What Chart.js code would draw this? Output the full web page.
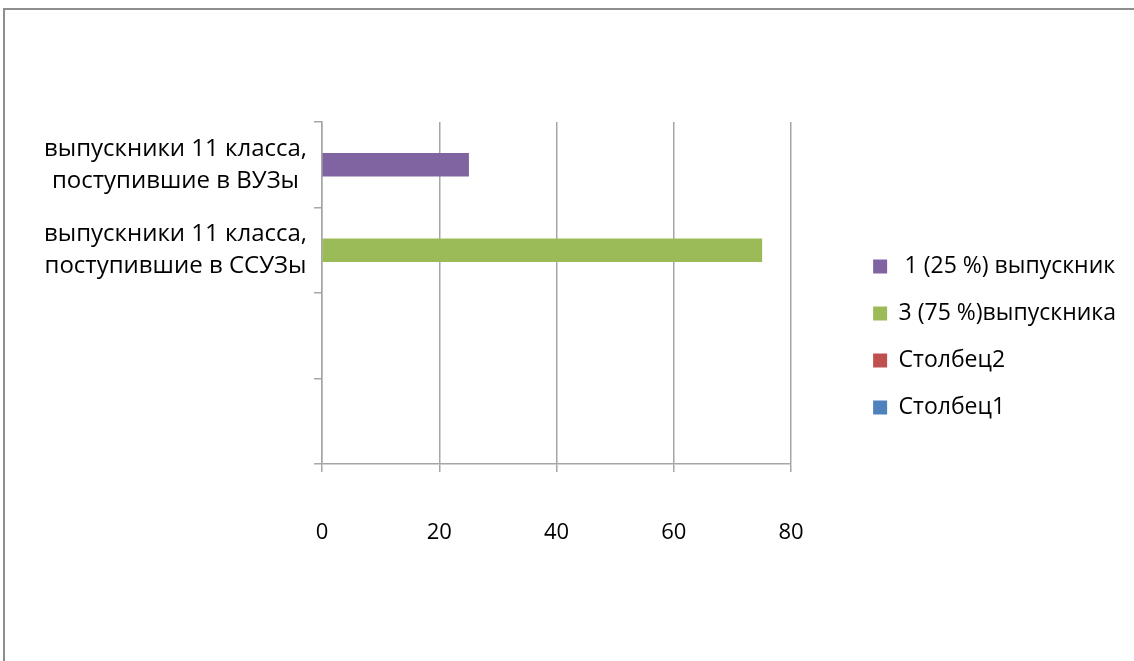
<!DOCTYPE html>
<html>
<head>
<meta charset="utf-8">
<script src="https://cdn.jsdelivr.net/npm/chart.js@4"></script>
<style>
  html, body { margin: 0; padding: 0; background: #fff; overflow: hidden; }
  .frame {
    position: absolute; left: 3px; top: 8px;
    width: 1140px; height: 670px;
    border-left: 2px solid #8e8e8e; border-top: 2px solid #8e8e8e;
  }
  .box { position: absolute; left: 0; top: 0; width: 1129px; height: 651px; }
</style>
</head>
<body>
<div class="frame">
  <div class="box"><canvas id="chart"></canvas></div>
</div>
<script>
// categories (top to bottom)
const categories = [
  ['выпускники 11 класса,', 'поступившие в ВУЗы'],
  ['выпускники 11 класса,', 'поступившие в ССУЗы'],
  '',
  ''
];
const seriesNames = [' 1 (25 %) выпускник', '3 (75 %)выпускника', 'Столбец2', 'Столбец1'];
const vuzValues  = [25, null, null, null];
const ssuzValues = [null, 75, null, null];
const col2Values = [null, null, null, null];
const col1Values = [null, null, null, null];
const xTicks = [0, 20, 40, 60, 80];

const colors = ['#8064A2', '#9BBB59', '#C0504D', '#4F81BD'];
const gridColor = '#a6a6a6';
const family = '"Open Sans", "Noto Sans", sans-serif';

/* legend sits further right than chart.js would put it:
   widen the legend box, then slide it back so the gap is left empty */
const legendGap = {
  id: 'legendGap',
  beforeLayout(chart, args, opts) {
    const lg = chart.legend;
    if (!lg || lg._gapPatched) return;
    const fit = lg.fit.bind(lg);
    lg.fit = function () {
      this.maxWidth = 1000;
      fit();
      this.width += opts.gap;
    };
    lg._gapPatched = true;
  },
  afterLayout(chart, args, opts) {
    const lg = chart.legend;
    if (!lg) return;
    lg.left += opts.gap;
    lg.width -= opts.gap;
    lg.top -= opts.lift;
    lg.bottom -= opts.lift;
  }
};

const ctx = document.getElementById('chart');

const chart = new Chart(ctx, {
  type: 'bar',
  data: {
    labels: categories,
    datasets: [vuzValues, ssuzValues, col2Values, col1Values].map((d, i) => ({
      label: seriesNames[i],
      data: d,
      backgroundColor: colors[i],
      borderColor: colors[i],
      borderWidth: 0,
      barThickness: 23,
      skipNull: true
    }))
  },
  options: {
    indexAxis: 'y',
    responsive: true,
    maintainAspectRatio: false,
    animation: false,
    layout: { padding: { top: 112, bottom: 97, left: 0, right: 8 } },
    scales: {
      x: {
        min: 0,
        max: 80,
        afterBuildTicks: s => { s.ticks = xTicks.map(v => ({ value: v })); },
        afterFit: s => { s.height = 100; },
        grid: { color: gridColor, lineWidth: 1.5, tickLength: 8, drawTicks: true },
        border: { color: gridColor, width: 1.5 },
        ticks: { color: '#000', font: { family: family, size: 22 }, padding: 48, maxRotation: 0 }
      },
      y: {
        afterFit: s => { s.width = 317; },
        grid: { drawOnChartArea: false, color: gridColor, lineWidth: 1.5, tickLength: 8, offset: true },
        border: { color: gridColor, width: 1.5 },
        ticks: { color: '#000', font: { family: family, size: 24, lineHeight: 1.33 }, crossAlign: 'center', padding: 7 }
      }
    },
    plugins: {
      legendGap: { gap: 58, lift: 6 },
      legend: {
        position: 'right',
        align: 'center',
        labels: {
          color: '#000',
          font: { family: family, size: 23 },
          boxWidth: 14,
          boxHeight: 14,
          padding: 24
        }
      },
      tooltip: { enabled: false }
    }
  },
  plugins: [legendGap]
});
</script>
</body>
</html>
